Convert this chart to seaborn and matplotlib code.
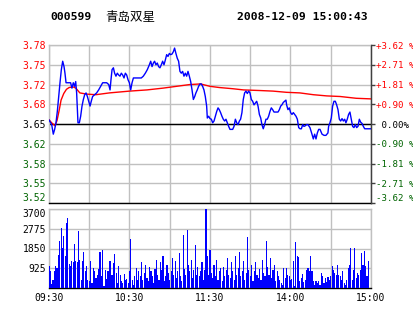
import matplotlib
matplotlib.use("Agg")
import matplotlib.pyplot as plt
import seaborn as sns

# ---------------- data ----------------
stock_code = "000599"
stock_name = "青岛双星"
timestamp = "2008-12-09 15:00:43"
prev_close = 3.65

price_min = [0, 2.0, 3.2, 4.2, 5.2, 6.2, 7.2, 8.2, 9.2, 10.2, 11.2, 11.9, 12.7, 14.4, 16.1, 17.1, 18.1, 19.1, 19.9,
             20.6, 21.6, 22.6, 23.6, 24.6, 25.6, 26.6, 27.6, 28.6, 29.6, 30.6, 31.5, 32.5, 34.0, 35.5, 37.0, 38.5,
             40.0, 41.5, 43.0, 44.5, 45.5, 46.2, 47.0, 48.0, 48.9, 49.9, 50.9, 51.9, 52.9, 53.9, 54.9, 55.9, 56.9,
             57.9, 58.9, 59.9, 60.9, 61.9, 62.9, 64.3, 65.8, 67.3, 68.8, 70.3, 71.8, 73.3, 74.8, 75.8, 76.8, 77.8,
             78.7, 79.7, 80.7, 81.7, 82.7, 83.7, 84.7, 85.7, 86.7, 87.7, 88.7, 89.7, 90.7, 91.7, 92.7, 93.6, 94.6,
             95.6, 96.6, 97.6, 98.6, 99.6, 100.6, 101.6, 102.6, 103.6, 104.6, 105.6, 106.6, 107.6, 108.6, 109.5,
             110.5, 111.5, 112.5, 113.5, 114.5, 115.5, 116.5, 117.5, 118.0, 119.0,
             120.0, 121.0, 122.0, 123.0, 124.0, 125.0, 126.0, 126.9, 127.9, 128.9, 129.9, 130.9, 131.9, 132.9,
             133.9, 134.9, 135.9, 136.9, 137.9, 138.9, 139.9, 140.9, 141.9, 142.8, 143.8, 144.8, 145.8, 146.8,
             147.8, 148.8, 149.8, 150.8, 151.8, 152.8, 153.8, 154.8, 155.8, 156.8, 157.8, 158.7, 159.7, 160.7,
             161.7, 162.7, 163.7, 164.7, 165.7, 166.7, 167.7, 168.7, 169.7, 170.7, 171.7, 172.7, 173.6, 174.6,
             175.6, 176.6, 177.1, 178.1, 179.1, 180.1, 181.1, 182.1, 183.1, 184.1, 185.1, 186.1, 187.1, 188.1,
             189.1, 190.0, 191.0, 192.0, 193.0, 194.5, 196.0, 197.0, 198.0, 199.0, 200.0, 201.0, 202.0, 203.5,
             205.0, 206.4, 207.9, 208.4, 209.4, 210.4, 211.4, 212.4, 213.4, 214.4, 215.4, 216.4, 217.4, 218.4,
             219.4, 220.4, 221.3, 222.3, 223.3, 224.3, 225.3, 226.3, 227.3, 228.3, 229.3, 230.3, 231.3, 232.3,
             233.3, 234.3, 235.3, 236.7, 240.0]
price_val = [3.657, 3.649, 3.633, 3.641, 3.652, 3.671, 3.696, 3.719, 3.741, 3.755, 3.746, 3.735, 3.719, 3.719, 3.719,
             3.710, 3.719, 3.713, 3.721, 3.702, 3.652, 3.652, 3.663, 3.680, 3.691, 3.699, 3.702, 3.696, 3.688, 3.680,
             3.688, 3.696, 3.699, 3.702, 3.707, 3.713, 3.719, 3.719, 3.719, 3.716, 3.707, 3.724, 3.741, 3.744, 3.735,
             3.730, 3.735, 3.732, 3.730, 3.735, 3.732, 3.727, 3.735, 3.732, 3.724, 3.719, 3.707, 3.719, 3.727, 3.727,
             3.727, 3.727, 3.727, 3.730, 3.735, 3.741, 3.749, 3.755, 3.746, 3.752, 3.755, 3.749, 3.752, 3.746, 3.744,
             3.749, 3.755, 3.749, 3.757, 3.766, 3.763, 3.768, 3.766, 3.767, 3.771, 3.777, 3.768, 3.760, 3.755, 3.738,
             3.735, 3.738, 3.730, 3.735, 3.730, 3.738, 3.730, 3.721, 3.707, 3.691, 3.696, 3.702, 3.707, 3.713, 3.717,
             3.717, 3.713, 3.707, 3.696, 3.680, 3.660, 3.663,
             3.659, 3.658, 3.652, 3.655, 3.663, 3.671, 3.677, 3.674, 3.669, 3.663, 3.658, 3.655, 3.658, 3.652, 3.646,
             3.641, 3.641, 3.641, 3.646, 3.658, 3.652, 3.649, 3.655, 3.658, 3.669, 3.691, 3.702, 3.705, 3.701, 3.705,
             3.702, 3.691, 3.688, 3.682, 3.685, 3.688, 3.680, 3.666, 3.660, 3.649, 3.642, 3.649, 3.658, 3.658, 3.663,
             3.671, 3.677, 3.674, 3.670, 3.670, 3.670, 3.670, 3.674, 3.680, 3.682, 3.686, 3.688, 3.690, 3.682, 3.674,
             3.677, 3.669, 3.666, 3.669, 3.666, 3.663, 3.658, 3.644, 3.642, 3.642, 3.649, 3.646, 3.647, 3.649, 3.649,
             3.644, 3.633, 3.625, 3.633, 3.625, 3.635, 3.641, 3.641, 3.633, 3.631, 3.631, 3.635, 3.646, 3.652, 3.660,
             3.680, 3.688, 3.688, 3.682, 3.674, 3.658, 3.655, 3.659, 3.655, 3.658, 3.652, 3.658, 3.666, 3.670, 3.658,
             3.646, 3.644, 3.649, 3.644, 3.646, 3.658, 3.653, 3.651, 3.646, 3.642, 3.642, 3.642]

avg_min = [0, 2, 4.5, 6, 7.5, 9, 11, 13, 15, 18, 20, 23, 28, 35, 45, 60, 73, 85, 95, 105, 113, 120, 127, 137,
           145, 157, 167, 177, 187, 197, 207, 217, 229, 240]
avg_val = [3.657, 3.652, 3.647, 3.656, 3.672, 3.690, 3.701, 3.708, 3.711, 3.712, 3.710, 3.702, 3.700, 3.699,
           3.702, 3.705, 3.707, 3.710, 3.713, 3.716, 3.717, 3.713, 3.711, 3.709, 3.707, 3.706, 3.705, 3.703,
           3.702, 3.699, 3.697, 3.696, 3.693, 3.692]

volume = [1014, 780, 200, 390, 811, 1045, 936, 1560, 2215, 2808, 1872, 2418, 1513, 3042, 3276, 1139, 1045, 1279,
          1201, 2075, 1248, 1232, 2683, 1300, 390, 1279, 1669, 780, 1014, 390, 312, 1279, 234, 936, 780, 468,
          624, 889, 1669, 546, 1763, 109, 858, 421, 780, 1279, 1248, 624, 1170, 1607, 702, 234, 1014, 624, 312,
          234, 670, 360, 420, 230, 780, 2293, 390, 156, 546, 936, 390, 780, 546,
          1200, 390, 700, 1100, 468, 312, 1000, 800, 546, 234, 900,
          1300, 624, 390, 1200, 858, 1500, 312, 546, 1100, 702,
          390, 800, 1400, 624, 1250, 468, 780, 1650, 546, 312,
          2500, 900, 624, 2700, 1100, 780, 1300, 468, 858, 2000,
          624, 1000, 546, 780, 1200, 390, 858, 3700, 1500, 624,
          1800, 702, 468, 1100, 546, 1300, 390, 780, 936, 312,
          1000, 546, 858, 1400, 624, 468, 1200, 780, 390, 1500,
          624, 936, 1700, 546, 780, 1250, 390, 702, 2400, 858,
          546, 1100, 312, 780, 1200, 624, 468, 900, 390, 1300,
          702, 546, 2200, 1000, 624, 1400, 468, 858, 1100, 312, 780, 546,
          390, 234, 156, 936, 468, 936, 624, 546, 360, 420, 1248, 110, 2153, 1513, 1451, 312, 468, 670, 265,
          390, 858, 936, 780, 1513, 780, 312, 156, 312, 234, 312, 156, 702, 546, 234, 468, 265, 514, 390, 546,
          1014, 858, 702, 624, 1092, 624, 546, 358, 780, 234, 156, 390, 936, 1092, 1872, 390, 858, 1872, 468,
          702, 624, 858, 1638, 1092, 1716, 1014, 546, 1279]
vol_min = list(range(len(volume)))

pct_steps = [-4, -3, -2, -1, 0, 1, 2, 3, 4]
pct_labels = ["-3.62 %", "-2.71 %", "-1.81 %", "-0.90 %", " 0.00%", "+0.90 %", "+1.81 %", "+2.71 %", "+3.62 %"]
price_labels = ["3.52", "3.55", "3.58", "3.62", "3.65", "3.68", "3.72", "3.75", "3.78"]
vol_ticks = [925, 1850, 2775, 3700]
vol_labels = ["925", "1850", "2775", "3700"]
time_ticks = [0, 60, 120, 180, 240]
time_labels = ["09:30", "10:30", "11:30", "14:00", "15:00"]

# ---------------- style ----------------
sns.set_style("white")
plt.rcParams["font.family"] = ["DejaVu Sans Mono", "Noto Sans CJK SC"]

RED = "#FF0000"
GREEN = "#006400"
GRID = "#C0C0C0"
DARK = "#404040"
MONO = "DejaVu Sans Mono"
FS = 6.6

W, H = 414, 314
fig = plt.figure(figsize=(W / 100, H / 100), dpi=100)
fig.patch.set_facecolor("white")

L, R = 49, 371
ax1 = fig.add_axes([L / W, 1 - 203 / H, (R - L) / W, (203 - 45) / H])
ax2 = fig.add_axes([L / W, 1 - 288 / H, (R - L) / W, (288 - 209) / H])

step = prev_close * 0.00905
yticks = [prev_close + k * step for k in pct_steps]
ylo, yhi = yticks[0], yticks[-1]

def label_color(k):
    return RED if k > 0 else (GREEN if k < 0 else "black")

# ---- price panel ----
ax1.set_xlim(0, 240)
ax1.set_ylim(ylo, yhi)
ax1.set_xticks(list(range(0, 241, 30)))
ax1.set_xticklabels([])
ax1.set_yticks(yticks)
ax1.set_yticklabels(price_labels, fontsize=FS + 0.4, family=MONO)
for t, k in zip(ax1.get_yticklabels(), pct_steps):
    t.set_color(label_color(k))
    if k == -4:
        t.set_va("bottom")
ax1.tick_params(axis="both", length=0, pad=2)
ax1.grid(True, color=GRID, lw=1)
ax1.set_axisbelow(True)
ax1.axhline(prev_close, color="black", lw=1, zorder=2)
for s in ["top", "left"]:
    ax1.spines[s].set_color(GRID)
    ax1.spines[s].set_linewidth(1)
ax1.spines["bottom"].set_color("black")
ax1.spines["bottom"].set_linewidth(1)
ax1.spines["right"].set_color(DARK)
ax1.spines["right"].set_linewidth(1)

sns.lineplot(x=avg_min, y=avg_val, ax=ax1, color=RED, lw=1, sort=False, estimator=None, zorder=3)
sns.lineplot(x=price_min, y=price_val, ax=ax1, color="#0000FF", lw=1, sort=False, estimator=None, zorder=4)
ax1.set_xlabel("")
ax1.set_ylabel("")

axr = ax1.twinx()
axr.set_ylim(ylo, yhi)
axr.set_yticks(yticks)
axr.set_yticklabels(pct_labels, fontsize=FS, family=MONO)
for t, k in zip(axr.get_yticklabels(), pct_steps):
    t.set_color(label_color(k))
    if k == -4:
        t.set_va("bottom")
axr.tick_params(axis="y", length=3, width=1, color=DARK, pad=0.3)
for s in ["top", "left", "bottom"]:
    axr.spines[s].set_visible(False)
axr.spines["right"].set_color(DARK)
axr.grid(False)

# ---- volume panel ----
sns.barplot(x=vol_min, y=volume, ax=ax2, native_scale=True, color="#0000FF", saturation=1,
            width=0.85, linewidth=0, errorbar=None, zorder=3)
for p in ax2.patches:
    p.set_antialiased(False)
ax2.set_xlim(0, 240)
ax2.set_ylim(0, 3700)
ax2.set_xticks(list(range(0, 241, 30)))
ax2.set_xticklabels([])
ax2.set_yticks(vol_ticks)
ax2.set_yticklabels(vol_labels, fontsize=FS + 0.4, family=MONO, color="black")
for t, v in zip(ax2.get_yticklabels(), vol_ticks):
    if v == 3700:
        t.set_va("top")
ax2.tick_params(axis="both", length=0, pad=2)
ax2.grid(True, color=GRID, lw=1)
ax2.set_axisbelow(True)
ax2.set_xlabel("")
ax2.set_ylabel("")
for s in ["top", "left", "right"]:
    ax2.spines[s].set_color(GRID)
    ax2.spines[s].set_linewidth(1)
ax2.spines["bottom"].set_color("black")
ax2.spines["bottom"].set_linewidth(1)

for tx, lab in zip(time_ticks, time_labels):
    ax2.text(tx, -0.13, lab, transform=ax2.get_xaxis_transform(), ha="center", va="center",
             fontsize=7, family=MONO, color="black")

# ---- header ----
fig.text(50 / W, 1 - 17 / H, stock_code, ha="left", va="center", fontsize=8.2,
         fontweight="bold", family=MONO, color="black")
fig.text(105 / W, 1 - 17 / H, stock_name, ha="left", va="center", fontsize=9,
         family=["Noto Sans CJK SC", "DejaVu Sans"], color="black")
fig.text(237 / W, 1 - 17 / H, timestamp, ha="left", va="center", fontsize=8.2,
         fontweight="bold", family=MONO, color="black")

fig.savefig("out.png", dpi=100, facecolor="white")
